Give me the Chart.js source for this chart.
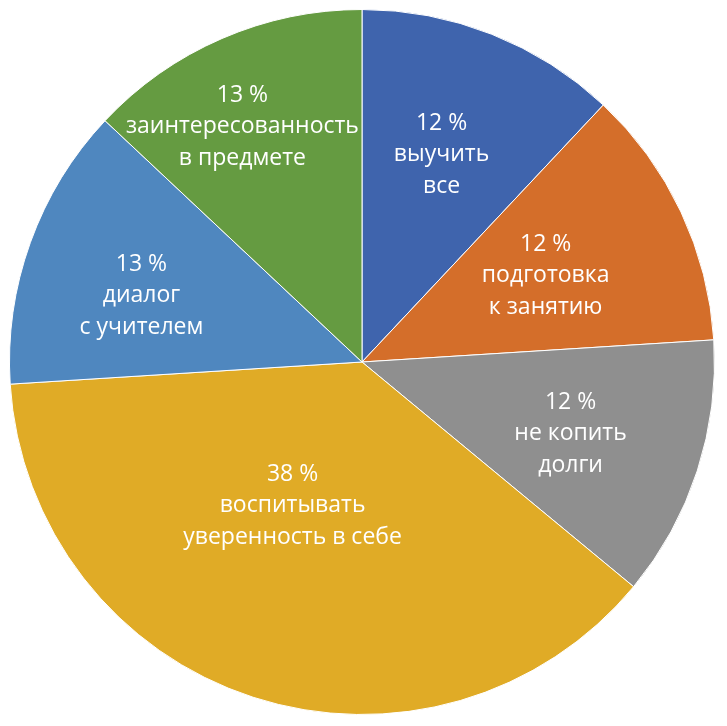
<!DOCTYPE html>
<html>
<head>
<meta charset="utf-8">
<script src="https://cdn.jsdelivr.net/npm/chart.js@4"></script>
<style>
  html, body { margin: 0; padding: 0; background: #ffffff; }
  #wrap { width: 727px; height: 726px; }
</style>
</head>
<body>
<div id="wrap"><canvas id="pieChart"></canvas></div>
<script>
// data, clockwise from 12 o'clock
const categories = [
    ['выучить', 'все'],
    ['подготовка', 'к занятию'],
    ['не копить', 'долги'],
    ['воспитывать', 'уверенность в себе'],
    ['диалог', 'с учителем'],
    ['заинтересованность', 'в предмете']
];
const shares = [12, 12, 12, 38, 13, 13];
const sliceColors = ['#3F64AD', '#D46E2A', '#8F8F8F', '#E0AB26', '#4F87BF', '#659B41'];

// where each label sits inside its slice: fraction along the arc, fraction of radius
const labelAngleFrac = [0.50, 0.54, 0.56, 0.55, 0.40, 0.41];
const labelRadiusFrac = [0.613, 0.568, 0.632, 0.469, 0.648, 0.732];

const sliceLabels = {
    id: 'sliceLabels',
    afterDatasetsDraw(chart) {
        const c = chart.ctx;
        const arcs = chart.getDatasetMeta(0).data;
        c.save();
        c.fillStyle = '#ffffff';
        c.font = '23px "Open Sans", sans-serif';
        c.textAlign = 'center';
        c.textBaseline = 'alphabetic';
        arcs.forEach((arc, i) => {
            const p = arc.getProps(['x', 'y', 'startAngle', 'endAngle', 'outerRadius'], true);
            const a = p.startAngle + (p.endAngle - p.startAngle) * labelAngleFrac[i];
            const r = p.outerRadius * labelRadiusFrac[i];
            const cx = p.x + Math.cos(a) * r;
            const cy = p.y + Math.sin(a) * r;
            const lines = [shares[i] + ' %', ...categories[i]];
            lines.forEach((txt, j) => {
                c.fillText(txt, cx, cy + (j - 1) * 31.5);
            });
        });
        c.restore();
    }
};

const ctx = document.getElementById('pieChart').getContext('2d');
const pieChart = new Chart(ctx, {
    type: 'pie',
    data: {
        labels: categories.map(c => c.join(' ')),
        datasets: [{
            data: shares,
            backgroundColor: sliceColors,
            borderColor: '#ffffff',
            borderWidth: 1
        }]
    },
    options: {
        responsive: true,
        maintainAspectRatio: false,
        animation: false,
        layout: { padding: { left: 9, top: 9, right: 12, bottom: 11 } },
        plugins: {
            legend: { display: false },
            tooltip: { enabled: false }
        }
    },
    plugins: [sliceLabels]
});
</script>
</body>
</html>
